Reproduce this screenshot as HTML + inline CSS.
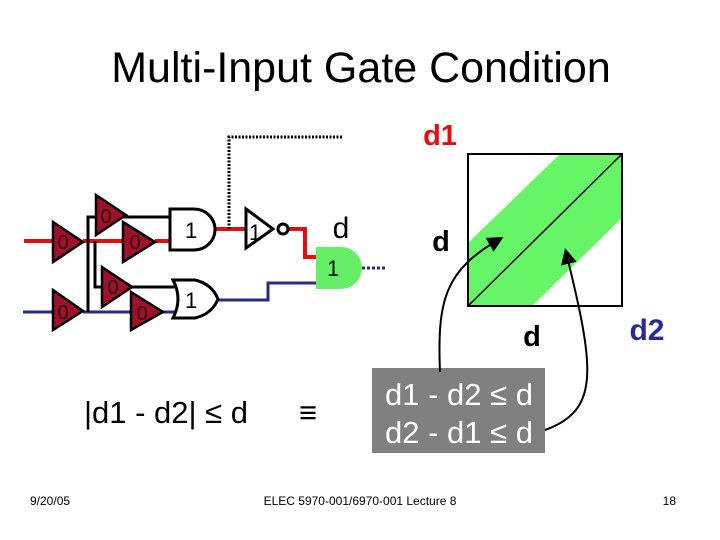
<!DOCTYPE html>
<html><head><meta charset="utf-8"><style>
html,body{margin:0;padding:0;background:#fff;}
svg{display:block;}
text{font-family:"Liberation Sans",sans-serif;}
</style></head><body>
<svg width="720" height="540" viewBox="0 0 720 540">
<defs><marker id="ah" markerWidth="8" markerHeight="8" refX="6" refY="4" orient="auto"><path d="M0,0 L8,4 L0,8 z" fill="#000"/></marker></defs>
<text x="361" y="82" font-size="43" text-anchor="middle">Multi-Input Gate Condition</text>
<!-- wires -->
<line x1="24" y1="241" x2="53" y2="241" stroke="#e01010" stroke-width="4"/>
<line x1="83" y1="241" x2="123" y2="241" stroke="#e01010" stroke-width="4"/>
<line x1="155" y1="241" x2="172" y2="241" stroke="#e01010" stroke-width="4"/>
<line x1="23" y1="312" x2="53" y2="312" stroke="#2a2a80" stroke-width="3"/>
<line x1="83" y1="312" x2="131" y2="312" stroke="#2a2a80" stroke-width="3"/>
<line x1="163" y1="312" x2="178" y2="312" stroke="#2a2a80" stroke-width="3"/>
<polyline points="88,312 88,217 96,217" fill="none" stroke="#000" stroke-width="3"/>
<polyline points="95,241 95,287 103,287" fill="none" stroke="#000" stroke-width="3"/>
<line x1="123" y1="217" x2="172" y2="217" stroke="#000" stroke-width="3"/>
<line x1="130" y1="287" x2="177" y2="287" stroke="#000" stroke-width="3"/>
<line x1="215" y1="229" x2="246" y2="229" stroke="#e01010" stroke-width="4"/>
<polyline points="229,229 229,137 343,137" fill="none" stroke="#000" stroke-width="3" stroke-dasharray="2,1.5"/>
<polyline points="288,229 305,229 305,257 317,257" fill="none" stroke="#e01010" stroke-width="4"/>
<polyline points="316,283 268,283 268,300 218,300" fill="none" stroke="#2a2a80" stroke-width="3"/>
<line x1="362" y1="268" x2="387" y2="268" stroke="#2a2a80" stroke-width="3" stroke-dasharray="3,2"/>
<!-- buffers -->
<g fill="#a0102a" stroke="#000" stroke-width="2.5">
<polygon points="53,222 83,242 53,262"/>
<polygon points="96,195 126,215 96,235"/>
<polygon points="123,222 155,242 123,262"/>
<polygon points="102,267 132,287 102,307"/>
<polygon points="131,292 163,312 131,330"/>
<polygon points="53,290 83,311 53,330"/>
</g>
<g font-size="20" fill="#2a0008" text-anchor="middle">
<text x="63" y="249">0</text><text x="106" y="223">0</text><text x="135" y="249">0</text>
<text x="113" y="294">0</text><text x="142" y="320">0</text><text x="63" y="319">0</text>
</g>
<!-- AND -->
<path d="M170,209 H194 A21,20.5 0 0 1 194,250 H170 Z" fill="#fff" stroke="#000" stroke-width="3"/>
<text x="185" y="238" font-size="22">1</text>
<!-- OR -->
<path d="M173,280 H195 Q212,284 218,299 Q212,314 195,318 H173 Q183,299 173,280 Z" fill="#fff" stroke="#000" stroke-width="3"/>
<text x="185" y="308" font-size="22">1</text>
<!-- inverter -->
<polygon points="246,209 273,229 246,248" fill="#fff" stroke="#000" stroke-width="3"/>
<circle cx="283" cy="229" r="5" fill="#fff" stroke="#000" stroke-width="3"/>
<text x="249" y="240" font-size="22">1</text>
<!-- green AND -->
<path d="M316,247 H341 A21,21 0 0 1 341,289 H316 Z" fill="#66ee66"/>
<text x="327" y="276" font-size="22">1</text>
<text x="341" y="238" font-size="30" text-anchor="middle">d</text>
<!-- plot -->
<polygon points="468,243 560,154 622,154 622,218 532,306 468,306" fill="#66f566"/>
<rect x="468" y="154" width="154" height="152" fill="none" stroke="#000" stroke-width="2"/>
<line x1="468" y1="306" x2="622" y2="154" stroke="#000" stroke-width="1.5"/>
<text x="440" y="145" font-size="29" font-weight="bold" fill="#e01010" text-anchor="middle">d1</text>
<text x="441" y="251" font-size="29" font-weight="bold" text-anchor="middle">d</text>
<text x="532" y="346" font-size="29" font-weight="bold" text-anchor="middle">d</text>
<text x="647" y="340" font-size="30" font-weight="bold" fill="#2a2a90" text-anchor="middle">d2</text>
<rect x="372" y="368" width="173" height="85" fill="#808080"/>
<text x="459" y="405" font-size="31" fill="#fff" text-anchor="middle">d1 - d2 ≤ d</text>
<text x="459" y="443" font-size="31" fill="#fff" text-anchor="middle">d2 - d1 ≤ d</text>
<path d="M440,372 C437,300 445,270 500,239" fill="none" stroke="#000" stroke-width="2" marker-end="url(#ah)"/>
<path d="M545,430 C600,410 595,370 566,252" fill="none" stroke="#000" stroke-width="2" marker-end="url(#ah)"/>
<text x="166" y="423" font-size="31" text-anchor="middle">|d1 - d2| ≤ d</text>
<text x="308" y="423" font-size="31" text-anchor="middle">≡</text>
<text x="30" y="505" font-size="12">9/20/05</text>
<text x="360" y="505" font-size="12" text-anchor="middle">ELEC 5970-001/6970-001 Lecture 8</text>
<text x="676" y="505" font-size="12" text-anchor="end">18</text>
</svg>
</body></html>
